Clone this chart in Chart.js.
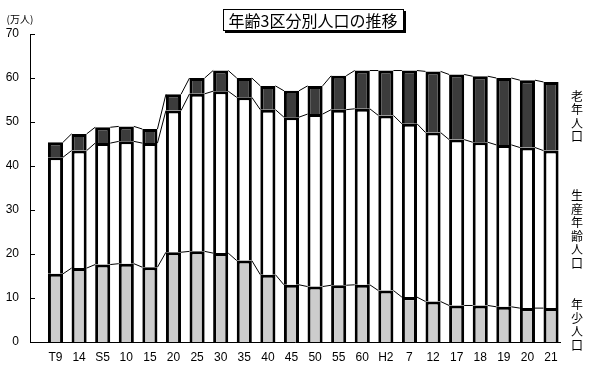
<!DOCTYPE html>
<html><head><meta charset="utf-8">
<script src="https://cdn.jsdelivr.net/npm/chart.js@4/dist/chart.umd.min.js"></script>
<style>html,body{margin:0;padding:0;background:#fff}#wrap{width:598px;height:375px;position:relative}</style>
</head><body><div id="wrap"><canvas id="c" width="598" height="375"></canvas></div>
<script>
// ---- data ----
const categories = ['T9','14','S5','10','15','20','25','30','35','40','45','50','55','60','H2','7','12','17','18','19','20','21'];
const youngPop   = [15.5,16.8,17.6,17.8,17.0,20.4,20.6,20.2,18.5,15.3,13.0,12.6,12.9,13.0,11.7,10.2,9.2,8.3,8.3,8.0,7.7,7.7];
const workingPop = [26.5,26.7,27.6,27.8,28.2,32.2,35.8,36.8,37.1,37.5,38.1,39.2,39.9,40.0,39.8,39.4,38.4,37.7,37.1,36.8,36.5,35.8];
const elderlyPop = [3.4,3.8,3.6,3.4,3.2,3.7,3.6,4.7,4.4,5.4,6.0,6.4,7.7,8.7,10.2,12.1,13.9,14.8,15.0,15.2,15.3,15.6];
const seriesNames = ['年少人口','生産年齢人口','老年人口'];
const yTickValues = [0,10,20,30,40,50,60,70];
const chartTitle = '年齢3区分別人口の推移';
const unitLabel = '(万人)';

// ---- styling ----
const JP = '"Noto Sans CJK JP", "Liberation Sans", sans-serif';
const NUM = '"Liberation Sans", "Noto Sans CJK JP", sans-serif';
const fills = ['#cccccc', '#ffffff', '#3c3c3c'];

const toPoints = arr => arr.map((v, i) => ({x: i, y: v}));

const decorPlugin = {
  id: 'decor',
  afterDatasetsDraw(chart) {
    const ctx = chart.ctx;
    const ca = chart.chartArea;
    const ys = chart.scales.y;
    ctx.save();
    // series lines connecting segment tops
    ctx.strokeStyle = '#000';
    ctx.lineWidth = 1;
    chart.data.datasets.forEach((ds, di) => {
      const els = chart.getDatasetMeta(di).data;
      ctx.beginPath();
      for (let i = 0; i < els.length - 1; i++) {
        const a = els[i].getProps(['x','y','width'], true);
        const b = els[i+1].getProps(['x','y','width'], true);
        ctx.moveTo(a.x + a.width / 2, a.y);
        ctx.lineTo(b.x - b.width / 2, b.y);
      }
      ctx.stroke();
    });
    // inner tick marks on y axis
    ctx.beginPath();
    ys.ticks.forEach(t => {
      const py = Math.round(ys.getPixelForValue(t.value)) + 0.5;
      ctx.moveTo(ca.left, py);
      ctx.lineTo(ca.left + 5, py);
    });
    ctx.stroke();
    // unit label
    ctx.fillStyle = '#000';
    ctx.font = '10px ' + JP;
    ctx.textAlign = 'center';
    ctx.textBaseline = 'middle';
    ctx.fillText(unitLabel, ca.left - 10, ca.top - 15);
    // series labels at right, vertical, centred on the last bar's segments
    ctx.font = '12px ' + JP;
    chart.data.datasets.forEach((ds, di) => {
      const els = chart.getDatasetMeta(di).data;
      const last = els[els.length - 1].getProps(['y','base'], true);
      const mid = (last.y + last.base) / 2;
      const chars = Array.from(seriesNames[di]);
      const step = 13.5;
      const start = mid - step * (chars.length - 1) / 2;
      chars.forEach((ch, k) => ctx.fillText(ch, ca.right + 17, start + k * step));
    });
    // title with box and shadow
    ctx.font = '16px ' + JP;
    const tx = 313, ty = 21;
    const w = ctx.measureText(chartTitle).width;
    const bx = Math.round(tx - w / 2 - 6), by = 9, bw = Math.round(w + 12), bh = 22;
    ctx.fillStyle = '#000';
    ctx.fillRect(bx + 2, by + 2, bw, bh);
    ctx.fillStyle = '#fff';
    ctx.fillRect(bx, by, bw, bh);
    ctx.strokeRect(bx + 0.5, by + 0.5, bw - 1, bh - 1);
    ctx.fillStyle = '#000';
    ctx.fillText(chartTitle, tx, ty);
    ctx.restore();
  }
};

new Chart(document.getElementById('c'), {
  type: 'bar',
  data: {
    datasets: [youngPop, workingPop, elderlyPop].map((arr, i) => ({
      label: seriesNames[i],
      data: toPoints(arr),
      backgroundColor: fills[i],
      borderColor: '#000',
      borderWidth: 3,
      borderSkipped: 'start',
      barPercentage: 0.64,
      categoryPercentage: 1
    }))
  },
  options: {
    responsive: false,
    animation: false,
    devicePixelRatio: 1,
    layout: {padding: {left: 0, right: 38, top: 34, bottom: 0}},
    plugins: {legend: {display: false}, title: {display: false}, tooltip: {enabled: false}},
    scales: {
      x: {
        type: 'linear',
        stacked: true,
        offset: false,
        min: -1.081,
        max: 21.38,
        grid: {display: false, drawTicks: false},
        border: {display: true, color: '#000', width: 1},
        afterBuildTicks: s => { s.ticks = categories.map((c, i) => ({value: i})); },
        afterFit: s => { s.height = 33; },
        ticks: {
          autoSkip: false, maxRotation: 0, minRotation: 0, padding: 8,
          color: '#000', font: {family: NUM, size: 12},
          callback: v => categories[v]
        }
      },
      y: {
        stacked: true,
        min: 0, max: 70,
        grid: {display: false, drawTicks: false},
        border: {display: true, color: '#000', width: 1},
        afterBuildTicks: s => { s.ticks = yTickValues.map(v => ({value: v})); },
        afterFit: s => { s.width = 30; },
        ticks: {padding: 11, color: '#000', font: {family: NUM, size: 12}}
      }
    }
  },
  plugins: [decorPlugin]
});
</script>
</body></html>
